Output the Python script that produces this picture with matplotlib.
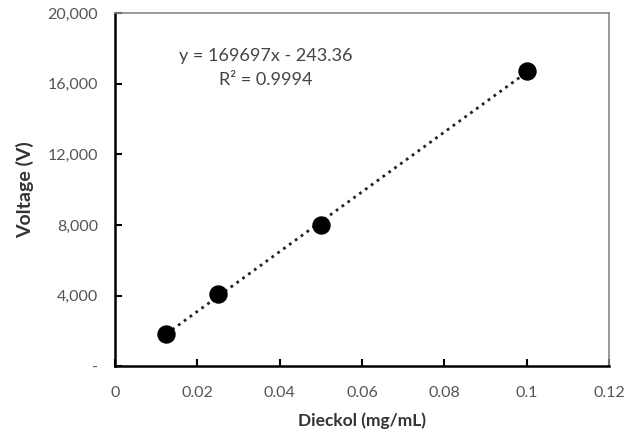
import matplotlib
matplotlib.use('Agg')
import matplotlib.pyplot as plt
import numpy as np

plt.rcParams['font.family'] = ['Lato', 'DejaVu Sans']

conc = [0.0125, 0.025, 0.05, 0.1]
voltage = [1800, 4100, 8000, 16700]
x_ticks = [0, 0.02, 0.04, 0.06, 0.08, 0.1, 0.12]
x_labels = ['0', '0.02', '0.04', '0.06', '0.08', '0.1', '0.12']
y_ticks = [0, 4000, 8000, 12000, 16000, 20000]
y_labels = ['-', '4,000', '8,000', '12,000', '16,000', '20,000']

fig = plt.figure(figsize=(6.35, 4.38), dpi=100)
ax = fig.add_axes([0.181, 0.164, 0.778, 0.806])

slope, intercept = np.polyfit(conc, voltage, 1)
xs = np.array([conc[0], conc[-1]])
ax.plot(xs, slope * xs + intercept, color='#222222', linestyle=(0, (1, 1.6)),
        linewidth=2.0, zorder=2)
ax.scatter(conc, voltage, s=150, color='black', zorder=3)

ax.set_xlim(0, 0.12)
ax.set_ylim(0, 20000)
ax.set_xticks(x_ticks)
ax.set_xticklabels(x_labels)
ax.set_yticks(y_ticks)
ax.set_yticklabels(y_labels)
ax.tick_params(direction='in', length=5, width=1.5, colors='black',
               labelcolor='#555555', labelsize=11.5, pad=12)
ax.tick_params(axis='x', pad=14)

for side in ['left', 'bottom']:
    ax.spines[side].set_linewidth(1.8)
    ax.spines[side].set_color('black')
for side in ['top', 'right']:
    ax.spines[side].set_linewidth(1.2)
    ax.spines[side].set_color('#888888')

ax.set_xlabel('Dieckol (mg/mL)', fontsize=12.5, fontweight='bold',
              color='#333333', labelpad=9)
ax.set_ylabel('Voltage (V)', fontsize=14, fontweight='bold',
              color='#333333', labelpad=10)

ax.text(0.0366, 17600, 'y = 169697x - 243.36', ha='center', va='center',
        fontsize=13, color='#444444')
ax.text(0.0366, 16200, 'R² = 0.9994', ha='center', va='center',
        fontsize=13, color='#444444')

fig.savefig('out.png', dpi=100)
